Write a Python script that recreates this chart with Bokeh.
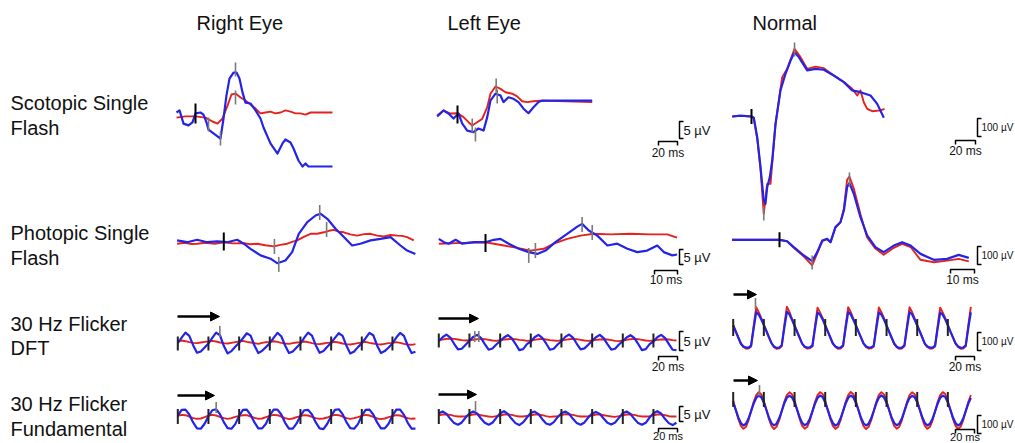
import numpy as np
from bokeh.plotting import figure
from bokeh.models import Range1d, Arrow, NormalHead
from bokeh.core.properties import value
from bokeh.embed import file_html
from bokeh.resources import INLINE

RED = "#e5211e"
BLUE = "#2424e8"
GRAY = "#7a7a7a"
FONT = "Liberation Sans"

# ---------------- data (time in ms from flash, amplitude in µV) ----------------
# Scotopic single flash, right eye
scot_r_red_t = [-20, -10.5, 0, 10.5, 17.9, 23.2, 28.4, 33.7, 37.9, 42.1, 47.4, 52.6, 57.9, 63.2, 68.4,
                73.7, 78.9, 84.2, 89.5, 94.7, 100, 105.3, 110.5, 115.8, 121.1, 126.3, 132, 144.2]
scot_r_red_v = [-0.7, -0.3, -0.3, -0.7, -2, -2.7, -1, 3.3, 7, 7.3, 6, 5, 3.7, 2.3, 0.7,
                1, 1.3, 0.7, 1, 1.7, 1.3, 0.7, 0.7, 0.3, 1, 1, 1, 1]
scot_r_blue_t = [-20, -16.8, -12.6, -7.4, -3.2, 0, 5.3, 8.4, 11.6, 13.7, 17.9, 22.1, 26.3, 29.5, 32.6,
                 35.8, 40, 43.2, 46.3, 49.5, 52.6, 57.9, 63.2, 68.4, 71.6, 78.9, 86.3, 91.6, 94.7,
                 100, 103.2, 108.4, 112.6, 115.8, 118.9, 144.2]
scot_r_blue_v = [1, 1.7, -2.7, -3.3, -2.3, 0.7, 1, 0.3, -2.3, -4.7, -5.7, -6.7, -7.7, -1, 6.7,
                 12.3, 14.3, 14.3, 12.3, 7.7, 4.3, 4, 1.7, -1, -4, -9.3, -12.7, -9.3, -8,
                 -9, -11, -15, -17, -16, -17, -17]
scot_r_mk_t = [13.7, 26.3, 42.1, 42.1]
scot_r_mk_v = [-3, -7.7, 15.3, 6]

# Scotopic single flash, left eye
scot_l_red_t = [-21.4, -14.7, -7.4, 0, 6.3, 11.6, 15.5, 20.7, 26, 31.3, 34.7, 40, 45.3, 50.5, 57.6,
                62.8, 68.1, 73.4, 80, 87.4, 141.8]
scot_l_red_v = [-0.7, 1, 0, 0.1, -1.2, -2.9, -4, -2.9, -1.8, 2.1, 6.6, 9, 8.2, 7.1, 6.6,
                5.7, 4.1, 3.8, 4.1, 4.3, 3.8]
scot_l_blue_t = [-21.4, -14.7, -9.5, -4.2, 1.1, 4.9, 10.2, 16.8, 22.1, 27.4, 31.3, 34.7, 40, 45.3,
                 48.4, 53.7, 58.9, 64.2, 69.5, 74.7, 80, 85.3, 89.2, 141.8]
scot_l_blue_v = [-1, 1, 0, -1.7, 0, -3.3, -5.7, -6.2, -5, -5.7, -1.2, 4.3, 6.6, 6,
                 3.8, 5.4, 4.9, 3.8, 1.6, 0.1, 2.1, 3.8, 4.3, 4.3]
scot_l_mk_t = [15.5, 18.9, 40.7, 41.8]
scot_l_mk_v = [-4, -7, 9.3, 5.7]

# Scotopic single flash, normal
scot_n_blue_t = [-20.3, -11.6, 0, 2.4, 6, 9.5, 12.9, 14.7, 16.5, 19.3, 21.8, 25.3, 30.5, 35.8, 41.1,
                 45.3, 49.8, 58.6, 67.4, 76.1, 86.6, 97.2, 106, 114.7, 125.3, 132.3, 139.3]
scot_n_blue_v = [0, 6, 0, -8, -129, -317, -525, -546, -442, -379, -275, -46, 163, 267, 350,
                 402, 371, 288, 298, 292, 256, 215, 163, 152, 131, 79, -8]
scot_n_red_t = [-20.3, -11.6, 0, 2.4, 6.3, 9.5, 12.9, 16.5, 20, 25.3, 32.3, 37.6, 45.3, 51.6, 58.6,
                67.4, 76.1, 86.6, 97.2, 106, 111.3, 114.7, 118.2, 121.8, 127.1, 135.8, 140]
scot_n_red_v = [0, 4, 0, -10, -150, -330, -608, -421, -421, -46, 246, 298, 423, 371, 298,
                312, 302, 256, 215, 173, 131, 163, 89, 48, 33, 38, 48]
scot_n_mk_t = [12.9, 45.3]
scot_n_mk_v = [-606, 419]

# Photopic single flash, right eye
phot_r_red_t = [-20.3, -17, -14, -11.6, -8, -4, 0, 4, 8.7, 11.6, 14.5, 18, 21.7, 24.6, 27.6, 29.7,
                31.9, 34.8, 37.7, 40.6, 43.5, 45.7, 47.8, 50, 52.2, 55, 58, 61, 63.8, 66.7, 69.6,
                72.5, 75.4, 77.5, 79.7, 82.6]
phot_r_red_v = [-0.4, -0.1, -0.5, -0.4, -0.1, -0.4, 0.1, -0.3, -0.2, -0.6, -0.4, -0.9, -1.3, -0.8,
                -0.4, 0.2, 0.7, 1.9, 2.9, 2.9, 3.4, 3.9, 4.2, 3.6, 3.4, 2.7, 2.3, 2.8, 2.9, 2.3, 2,
                2.5, 2.3, 2.2, 1.8, 0.7]
phot_r_blue_t = [-20.3, -15.9, -11.6, -7.2, -2.9, 1.5, 5.8, 8.7, 11.6, 16, 20.3, 23.2, 26.8, 29.7,
                 32.6, 36.3, 39.9, 42, 45, 48.6, 52.2, 55.8, 59.4, 63.8, 68.1, 72.5, 76.8, 79.7, 83.3]
phot_r_blue_v = [0.7, 0.1, 0.9, 0.1, 0.4, 0.1, 0.9, -0.4, -2.1, -4.3, -5.4, -6.9, -6, -3.2,
                 2.9, 6.8, 9, 9.6, 7.9, 4.6, 1.8, -1, -0.4, 0.7, 1.2, 1.8, -1, -2.7, -3.8]
phot_r_mk_t = [22, 23.9, 41.7, 44.7]
phot_r_mk_v = [-1.3, -7.3, 10, 4.3]

# Photopic single flash, left eye
phot_l_red_t = [-20.3, -12.3, 0, 8, 13.8, 19.6, 25.3, 29.7, 35.5, 41.3, 47.1, 54.3, 63, 71.7, 79, 83.3]
phot_l_red_v = [-0.4, -0.2, 0.1, -1, -1.8, -2.7, -2.1, -0.4, 1.2, 2.3, 2.9, 2.7, 2.9, 2.7, 2.7, 1.6]
phot_l_blue_t = [-20.3, -18.1, -16, -13, -10.1, -5.1, 0, 3.6, 6.5, 10.1, 14.5, 18.8, 22.5, 26.1,
                 30.4, 35.5, 39.9, 42, 44.9, 48.6, 53, 57.3, 61.7, 66, 70.3, 74.7, 77.5, 81.2, 83.3]
phot_l_blue_v = [1.2, 0.1, -0.4, 0.9, -0.4, 0.1, 0.1, 0.9, 1.2, -0.4, -2.1, -3.2, -3.8, -2.7,
                 0.1, 2.9, 5.3, 6.2, 4, 2.3, -1, -0.4, -2.1, -3.2, -2.7, -1, -3.2, -4.3, -4]
phot_l_mk_t = [18.8, 21.7, 42, 46.4]
phot_l_mk_v = [-4.3, -2.7, 6, 3.3]

# Photopic single flash, normal
phot_n_t = [-20.6, 0, 3.3, 6.2, 10.6, 14.2, 16.4, 18.6, 20.7, 22.2, 24.3, 26.5, 28, 29.4, 30.4,
            32.3, 35.2, 38.1, 41.7, 45.3, 49.7, 53.3, 57, 61.3, 67.1, 72.9, 77.9, 82.3]
phot_n_blue_v = [0, 0, -9, -46, -98, -133, -77, -4, 6, -15, 79, 110, 183, 329, 354,
                 288, 142, 27, -46, -77, -36, -15, -36, -88, -125, -119, -94, -113]
phot_n_red_v = [0, 0, -9, -50, -105, -160, -85, -8, 4, -15, 75, 110, 195, 375, 395,
                320, 160, 15, -55, -94, -50, -25, -45, -125, -140, -130, -119, -135]
phot_n_mk_t = [14.2, 30.4]
phot_n_mk_v = [-142, 377]

# 30 Hz flicker (sampled every 1/8 or 1/12 of a 33.3 ms cycle)
flicker_ticks = [0, 33.3, 66.7, 100, 133.3, 166.7, 200, 233.3]

dft_r_blue = [0.1, 1.8, 3.3, 2.3, -0.5, -2.8, -2.4, -1.2,
              0.0, 1.7, 3.3, 2.5, -0.7, -3.0, -2.3, -1.0,
              0.2, 1.6, 3.1, 2.4, -0.6, -2.9, -2.2, -1.1,
              0.1, 1.7, 3.2, 2.2, -0.6, -2.9, -2.4, -1.2,
              0.0, 1.8, 3.3, 2.4, -0.5, -2.8, -2.3, -1.0,
              0.2, 1.7, 3.1, 2.3, -0.7, -3.0, -2.4, -1.1,
              0.1, 1.6, 3.2, 2.5, -0.6, -2.9, -2.3, -1.2,
              0.0, 1.8, 3.2, 2.3, -0.6, -2.9, -2.5]
dft_r_red = [0.7, 0.9, 0.7, 0.4, 0.2, 0.1, 0.3, 0.5,
             0.6, 0.8, 0.6, 0.3, 0.1, 0.0, 0.2, 0.4,
             0.6, 0.8, 0.5, 0.3, 0.1, -0.1, 0.2, 0.4,
             0.5, 0.7, 0.5, 0.2, 0.0, -0.1, 0.1, 0.3,
             0.4, 0.6, 0.4, 0.1, -0.1, -0.2, 0.0, 0.2,
             0.3, 0.5, 0.3, 0.0, -0.2, -0.3, -0.1, 0.1,
             0.3, 0.5, 0.2, 0.0, -0.2, -0.3, -0.1, 0.1,
             0.2, 0.4, 0.2, -0.1, -0.3, -0.4, -0.2]
dft_r_mk_t = [45.7]
dft_r_mk_v = [3.6]

dft_l_blue = [-0.2, 1.0, 1.8, 0.9, -1.0, -2.7, -2.5, -1.3,
              -0.1, 1.1, 1.7, 0.8, -1.1, -2.8, -2.4, -1.2,
              -0.2, 0.9, 1.6, 0.7, -1.0, -2.9, -2.6, -1.1,
              -0.3, 1.0, 1.7, 0.8, -0.9, -2.8, -2.5, -1.2,
              -0.2, 1.1, 1.8, 0.9, -1.0, -2.7, -2.4, -1.3,
              -0.1, 1.0, 1.7, 0.7, -1.1, -2.8, -2.5, -1.2,
              -0.2, 0.9, 1.6, 0.8, -1.0, -2.9, -2.6, -1.1,
              -0.3, 1.0, 1.7, 0.8, -1.0, -2.8, -2.9]
dft_l_red = [0.2, 0.3, 0.5, 0.6, 0.5, 0.3, 0.1, 0.0,
             0.1, 0.2, 0.4, 0.5, 0.4, 0.2, 0.0, -0.1,
             0.1, 0.3, 0.4, 0.5, 0.4, 0.2, 0.1, -0.1,
             0.0, 0.2, 0.4, 0.5, 0.3, 0.1, 0.0, -0.1,
             0.1, 0.2, 0.4, 0.5, 0.4, 0.2, 0.0, -0.1,
             0.0, 0.2, 0.3, 0.4, 0.3, 0.1, -0.1, -0.2,
             0.0, 0.2, 0.4, 0.5, 0.4, 0.2, 0.0, -0.1,
             0.0, 0.2, 0.3, 0.4, 0.3, 0.1, 0.0]
dft_l_mk_t = [39.1, 43.5]
dft_l_mk_v = [1.2, 1.2]

dft_n_blue = [12, -24, -59, -94, -112, -118, -118, -106, -6, 90, 76, 47,
              14, -22, -58, -92, -112, -120, -118, -104, -2, 92, 78, 45,
              10, -25, -60, -95, -113, -118, -116, -106, -8, 88, 75, 48,
              12, -23, -59, -94, -111, -119, -118, -105, -4, 91, 77, 46,
              13, -24, -58, -93, -112, -118, -117, -107, -6, 89, 76, 47,
              11, -25, -60, -94, -113, -120, -118, -105, -5, 90, 78, 46,
              12, -23, -59, -95, -112, -118, -118, -106, -7, 88, 75, 47,
              13, -24, -58, -93, -111, -119, -118, -105, -3, 90]
dft_n_red = [14, -22, -59, -96, -115, -124, -124, -112, 10, 119, 90, 55,
             16, -20, -57, -94, -116, -126, -123, -110, 14, 122, 92, 53,
             12, -23, -60, -97, -116, -124, -122, -112, 8, 117, 88, 56,
             14, -21, -58, -95, -114, -125, -124, -111, 12, 120, 91, 54,
             15, -22, -58, -95, -115, -124, -123, -113, 10, 118, 90, 55,
             13, -23, -60, -96, -116, -126, -124, -111, 11, 119, 92, 54,
             14, -21, -59, -97, -115, -124, -124, -112, 9, 117, 89, 55,
             15, -22, -58, -95, -114, -125, -124, -111, 13, 121]
dft_n_mk_t = [24.2]
dft_n_mk_v = [141]

fund_r_blue = [0.5, 2.3, 2.4, 0.9, -1.5, -3.3, -3.4, -1.9,
               0.4, 2.2, 2.5, 1.0, -1.4, -3.2, -3.4, -2.0,
               0.5, 2.3, 2.4, 0.8, -1.5, -3.3, -3.3, -1.9,
               0.6, 2.4, 2.4, 0.9, -1.6, -3.4, -3.4, -1.8,
               0.5, 2.2, 2.3, 0.9, -1.5, -3.3, -3.5, -1.9,
               0.4, 2.3, 2.5, 1.0, -1.4, -3.2, -3.4, -2.0,
               0.5, 2.3, 2.4, 0.9, -1.5, -3.3, -3.3, -1.9,
               0.5, 2.4, 2.4, 0.8, -1.6, -3.4, -3.4]
fund_r_red = [0.5, 0.8, 0.7, 0.3, -0.2, -0.4, -0.3, 0.1,
              0.6, 0.8, 0.6, 0.2, -0.2, -0.4, -0.2, 0.2,
              0.5, 0.7, 0.7, 0.3, -0.1, -0.4, -0.3, 0.1,
              0.5, 0.8, 0.7, 0.3, -0.2, -0.5, -0.3, 0.1,
              0.4, 0.7, 0.6, 0.2, -0.2, -0.4, -0.3, 0.0,
              0.5, 0.8, 0.7, 0.3, -0.2, -0.4, -0.2, 0.1,
              0.5, 0.8, 0.6, 0.2, -0.3, -0.5, -0.3, 0.1,
              0.4, 0.7, 0.6, 0.2, -0.2, -0.4, -0.3]
fund_r_mk_t = [41.7]
fund_r_mk_v = [3.0]

fund_l_blue = [1.3, 1.8, 1.1, -0.4, -1.7, -2.2, -1.5, 0.0,
               1.2, 1.8, 1.2, -0.3, -1.6, -2.2, -1.6, -0.1,
               1.3, 1.9, 1.1, -0.4, -1.7, -2.3, -1.5, 0.0,
               1.4, 1.8, 1.0, -0.5, -1.8, -2.2, -1.4, 0.1,
               1.3, 1.8, 1.1, -0.4, -1.7, -2.2, -1.5, 0.0,
               1.2, 1.7, 1.1, -0.3, -1.6, -2.1, -1.5, -0.1,
               1.3, 1.8, 1.1, -0.4, -1.7, -2.2, -1.6, 0.0,
               1.3, 1.9, 1.2, -0.4, -1.7, -2.3, -1.6]
fund_l_red = [0.7, 0.9, 0.9, 0.8, 0.5, 0.3, 0.3, 0.4,
              0.7, 0.9, 1.0, 0.7, 0.5, 0.3, 0.2, 0.4,
              0.6, 0.9, 0.9, 0.8, 0.5, 0.3, 0.3, 0.5,
              0.7, 0.9, 0.9, 0.7, 0.4, 0.2, 0.3, 0.4,
              0.7, 1.0, 0.9, 0.8, 0.5, 0.3, 0.3, 0.4,
              0.6, 0.9, 0.9, 0.7, 0.5, 0.3, 0.2, 0.4,
              0.7, 0.9, 0.9, 0.8, 0.5, 0.3, 0.3, 0.4,
              0.7, 0.9, 0.9, 0.7, 0.4, 0.3, 0.3]
fund_l_mk_t = [39.9]
fund_l_mk_v = [3.3]

fund_n_blue = [47, 4, -41, -74, -88, -78, -47, -4, 41, 74, 88, 78,
               46, 3, -42, -75, -88, -77, -46, -3, 42, 75, 87, 77,
               48, 5, -40, -73, -87, -78, -48, -5, 40, 73, 88, 79,
               47, 4, -41, -74, -89, -79, -47, -4, 41, 74, 88, 78,
               46, 4, -42, -75, -88, -78, -46, -3, 42, 75, 89, 77,
               47, 3, -41, -74, -87, -77, -47, -4, 41, 73, 87, 78,
               48, 5, -40, -73, -88, -78, -48, -5, 40, 74, 88, 79,
               47, 4, -41, -74, -88, -78, -47, -4, 41, 74]
fund_n_red = [58, 5, -50, -91, -108, -96, -58, -5, 50, 91, 108, 96,
              57, 4, -51, -92, -109, -95, -57, -4, 51, 92, 107, 95,
              59, 6, -49, -90, -107, -96, -59, -6, 49, 90, 108, 97,
              58, 5, -50, -91, -108, -97, -58, -5, 50, 91, 109, 96,
              57, 5, -51, -92, -109, -96, -57, -4, 51, 92, 108, 95,
              58, 4, -50, -91, -107, -95, -58, -5, 50, 90, 107, 96,
              59, 6, -49, -90, -108, -96, -59, -6, 49, 91, 108, 97,
              58, 5, -50, -91, -108, -96, -58, -5, 50, 91]
fund_n_mk_t = [28.6]
fund_n_mk_v = [118]

col_titles = ["Right Eye", "Left Eye", "Normal"]
row_labels = [("Scotopic Single", "Flash"), ("Photopic Single", "Flash"),
              ("30 Hz Flicker", "DFT"), ("30 Hz Flicker", "Fundamental")]

# ---------------- layout (screen pixels of the page) ----------------
X0, X1, Y0, Y1 = 0, 1014, 0, 442
p = figure(width=X1 - X0, height=Y1 - Y0, x_range=Range1d(X0, X1), y_range=Range1d(Y1, Y0),
           output_backend="svg", toolbar_location=None, min_border=0,
           x_axis_location=None, y_axis_location=None)
p.grid.visible = False
p.outline_line_color = None
p.background_fill_color = "white"
p.border_fill_color = "white"

# panel: flash origin (px), baseline (px), px per ms, px per µV
panels = {
    "A": (195, 115, 0.95, 3.0), "B": (457, 113, 0.95, 3.0), "C": (751, 116, 0.95, 0.16),
    "D": (223.3, 242, 2.3, 3.0), "E": (485, 242, 2.3, 3.0), "F": (779, 239.3, 2.3, 0.16),
    "G": (177.3, 343, 0.92, 3.3), "H": (438.3, 340, 0.92, 3.3), "I": (732.7, 327, 0.92, 0.17),
    "J": (177.3, 417, 0.92, 3.3), "K": (438.3, 417, 0.92, 3.3), "L": (732.7, 410, 0.92, 0.17),
}
xr, yr = {}, {}
for k, (x0, y0, kx, ky) in panels.items():
    xr[k] = Range1d((X0 - x0) / kx, (X1 - x0) / kx)
    yr[k] = Range1d((y0 - Y1) / ky, (y0 - Y0) / ky)
p.extra_x_ranges = xr
p.extra_y_ranges = yr


def trace(k, t, v, color, w):
    p.line(t, v, x_range_name=k, y_range_name=k, line_color=color, line_width=w,
           line_join="round")


def ticks(k, t, v, size, color, w):
    p.scatter(t, v, x_range_name=k, y_range_name=k, marker="dash", angle=np.pi / 2,
              size=size, line_color=color, line_width=w)


TW_R, TW_B = 1.9, 2.2

# scotopic
trace("A", scot_r_red_t, scot_r_red_v, RED, TW_R)
trace("A", scot_r_blue_t, scot_r_blue_v, BLUE, TW_B)
ticks("A", [0], [0.7], 20, "black", 2)
ticks("A", scot_r_mk_t, scot_r_mk_v, 14, GRAY, 1.6)

trace("B", scot_l_red_t, scot_l_red_v, RED, TW_R)
trace("B", scot_l_blue_t, scot_l_blue_v, BLUE, TW_B)
ticks("B", [0], [-0.3], 18, "black", 2)
ticks("B", scot_l_mk_t, scot_l_mk_v, 14, GRAY, 1.6)

trace("C", scot_n_red_t, scot_n_red_v, RED, TW_R)
trace("C", scot_n_blue_t, scot_n_blue_v, BLUE, TW_B)
ticks("C", [0], [0], 15, "black", 2)
ticks("C", scot_n_mk_t, scot_n_mk_v, 14, GRAY, 1.6)

# photopic
trace("D", phot_r_red_t, phot_r_red_v, RED, TW_R)
trace("D", phot_r_blue_t, phot_r_blue_v, BLUE, TW_B)
ticks("D", [0], [0.3], 18, "black", 2)
ticks("D", phot_r_mk_t, phot_r_mk_v, 15, GRAY, 1.6)

trace("E", phot_l_red_t, phot_l_red_v, RED, TW_R)
trace("E", phot_l_blue_t, phot_l_blue_v, BLUE, TW_B)
ticks("E", [0], [-0.2], 18, "black", 2)
ticks("E", phot_l_mk_t, phot_l_mk_v, 15, GRAY, 1.6)

trace("F", phot_n_t, phot_n_red_v, RED, TW_R)
trace("F", phot_n_t, phot_n_blue_v, BLUE, TW_B)
ticks("F", [0], [0], 15, "black", 2)
ticks("F", phot_n_mk_t, phot_n_mk_v, 14, GRAY, 1.6)

# flicker
step8 = 33.33 / 8
step12 = 33.33 / 12
for k, red, blue, step, mt, mv, tv, tl in [
    ("G", dft_r_red, dft_r_blue, step8, dft_r_mk_t, dft_r_mk_v, 0.0, 14),
    ("H", dft_l_red, dft_l_blue, step8, dft_l_mk_t, dft_l_mk_v, 0.0, 14),
    ("I", dft_n_red, dft_n_blue, step12, dft_n_mk_t, dft_n_mk_v, 0.0, 17),
    ("J", fund_r_red, fund_r_blue, step8, fund_r_mk_t, fund_r_mk_v, 0.3, 15),
    ("K", fund_l_red, fund_l_blue, step8, fund_l_mk_t, fund_l_mk_v, 0.3, 15),
    ("L", fund_n_red, fund_n_blue, step12, fund_n_mk_t, fund_n_mk_v, 65, 15),
]:
    t = np.arange(len(red)) * step
    trace(k, t, red, RED, TW_R)
    trace(k, t, blue, BLUE, TW_B)
    ticks(k, flicker_ticks, [tv] * len(flicker_ticks), tl, "#222222", 2)
    ticks(k, mt, mv, 11, GRAY, 1.6)

# stimulus arrows
for xs, xe, y in [(177, 219, 316), (438, 478, 318), (733, 756, 294),
                  (177, 214, 395), (438, 476, 394), (733, 757, 380)]:
    p.add_layout(Arrow(end=NormalHead(size=9, fill_color="black", line_color="black", line_width=1),
                       x_start=xs, y_start=y, x_end=xe, y_end=y,
                       line_color="black", line_width=2.5))


# scale bars: brackets (vertical) and time bars
def vbar(x, ya, yb):
    p.multi_line([[x + 4, x, x, x + 4]], [[ya, ya, yb, yb]], line_color="black", line_width=1.5)


def hbar(xa, xb, y):
    p.multi_line([[xa, xa, xb, xb]], [[y + 4, y, y, y + 4]], line_color="black", line_width=1.5)


scale_items = [
    # bracket x, y top, y bottom, label, label size, time bar xa, xb, y, label, label y, label size
    (679, 121, 138, "5 µV", "13px", 658, 677, 141, "20 ms", 152, "12px"),
    (977, 118, 136, "100 µV", "10px", 955, 975, 140, "20 ms", 150, "12px"),
    (679, 249, 264, "5 µV", "13px", 654, 677, 270, "10 ms", 279, "12px"),
    (977, 246, 264, "100 µV", "10px", 950, 974, 269, "10 ms", 279, "12px"),
    (679, 331, 350, "5 µV", "13px", 658, 677, 356, "20 ms", 366, "12px"),
    (977, 332, 350, "100 µV", "10px", 955, 974, 356, "20 ms", 366, "12px"),
    (679, 406, 421, "5 µV", "13px", 658, 677, 428, "20 ms", 435.5, "11px"),
    (977, 415, 433, "100 µV", "10px", 955, 974, 429, "20 ms", 436, "11px"),
]
for bx, yt, yb, bl, bs, xa, xb, hy, hl, hly, hs in scale_items:
    vbar(bx, yt, yb)
    hbar(xa, xb, hy)
    p.text([bx + 4], [(yt + yb) / 2], text=[bl], text_font=value(FONT), text_font_size=bs,
           text_baseline="middle", text_align="left", text_color="#111111")
    p.text([(xa + xb) / 2], [hly], text=[hl], text_font=value(FONT), text_font_size=hs,
           text_baseline="middle", text_align="center", text_color="#111111")

# titles and row labels
p.text([196, 447, 752], [22, 22, 22], text=col_titles, text_font=value(FONT),
       text_font_size="20px", text_baseline="middle", text_align="left", text_color="#111111")
row_y = [(102, 127), (232, 257), (323, 347), (403, 428)]
for (l1, l2), (y1, y2) in zip(row_labels, row_y):
    p.text([10, 10], [y1, y2], text=[l1, l2], text_font=value(FONT), text_font_size="20px",
           text_baseline="middle", text_align="left", text_color="#111111")

open("out.html", "w").write(file_html(p, INLINE))
